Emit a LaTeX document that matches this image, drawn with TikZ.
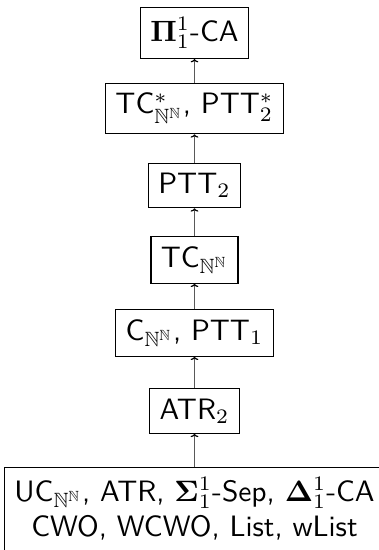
\documentclass[tikz,border=0pt]{standalone}
\usepackage{amsmath,amssymb}
\usetikzlibrary{arrows.meta}
\renewcommand{\familydefault}{\sfdefault}
\newcommand{\NNsub}{\mathbb{N}^{\mathbb{N}}}
\begin{document}
\begin{tikzpicture}[x=0.339pt,y=-0.339pt,
  box/.style={draw, line width=0.4pt, font=\sffamily},
  arr/.style={draw=black!65, line width=0.4pt, -{To[length=1.1pt,width=2.6pt,color=black]}}]
\useasboundingbox (0,0) rectangle (379,550);
\coordinate (ax) at (194.5,0);
\node[box] (pi)  at (194.5,33)  {$\mathbf{\Pi}^1_1$-CA};
\node[box] (tcs) at (194.5,108.5) {TC$^*_{\NNsub}$, PTT$^*_2$};
\node[box] (ptt) at (194.5,185.5) {PTT$_2$};
\node[box] (tc)  at (194.5,260)   {TC$_{\NNsub}$};
\node[box] (c)   at (194.5,333)   {C$_{\NNsub}$, PTT$_1$};
\node[box] (atr) at (194.5,411) {ATR$_2$};
\node[box, align=center] (bot) at (194.5,509)
  {UC$_{\NNsub}$, ATR, $\mathbf{\Sigma}^1_1$-Sep, $\mathbf{\Delta}^1_1$-CA\\ CWO, WCWO, List, wList};
\draw[arr] (bot.north -| ax) -- (atr.south -| ax);
\draw[arr] (atr.north -| ax) -- (c.south -| ax);
\draw[arr] (c.north -| ax) -- (tc.south -| ax);
\draw[arr] (tc.north -| ax) -- (ptt.south -| ax);
\draw[arr] (ptt.north -| ax) -- (tcs.south -| ax);
\draw[arr] (tcs.north -| ax) -- (pi.south -| ax);
\end{tikzpicture}
\end{document}
